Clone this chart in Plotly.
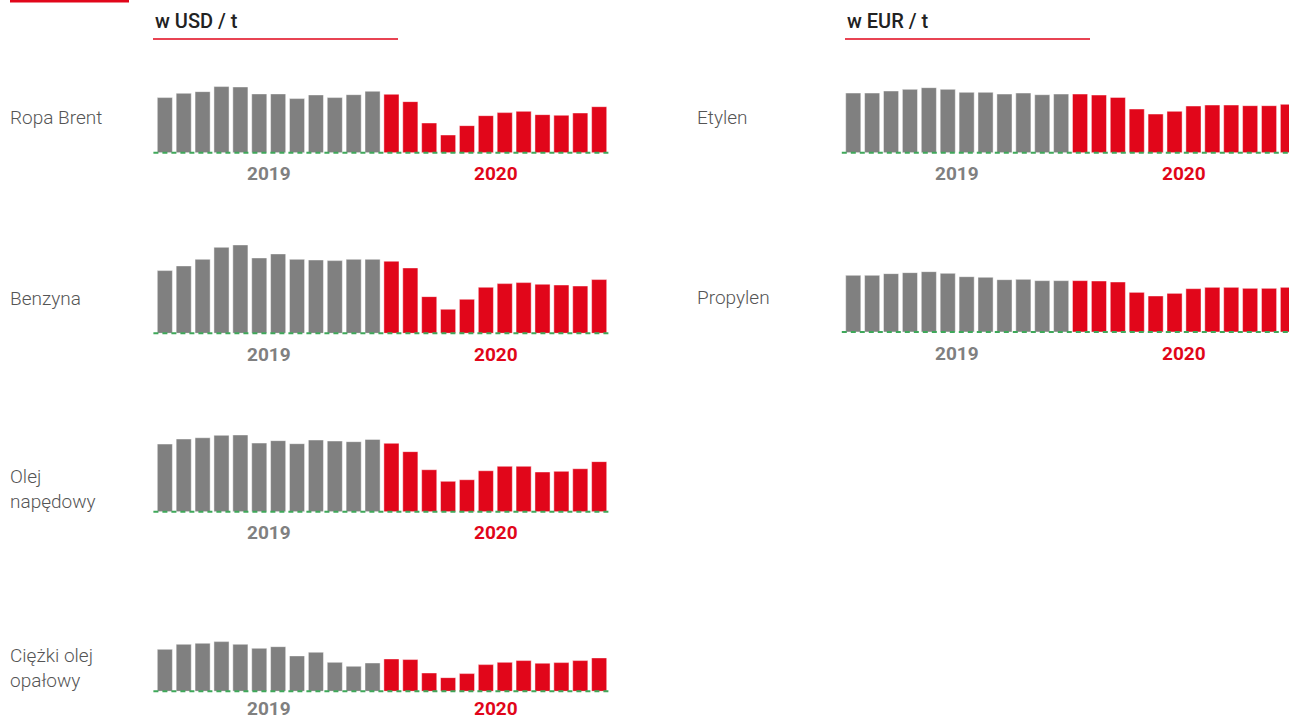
import plotly.graph_objects as go

# ---------------------------------------------------------------- data
months = [f"{m:02d}.2019" for m in range(1, 13)] + [f"{m:02d}.2020" for m in range(1, 13)]
years = ["2019", "2020"]

# USD / t
ropa_brent = [436, 470, 483, 523, 520, 465, 465, 428, 457, 436, 459, 486,
              462, 404, 235, 140, 214, 293, 317, 327, 301, 296, 314, 364]
benzyna = [496, 533, 585, 680, 699, 596, 628, 585, 580, 575, 585, 585,
           570, 517, 290, 190, 269, 364, 393, 401, 388, 382, 374, 425]
olej_napedowy = [535, 575, 585, 604, 607, 543, 562, 538, 567, 559, 554, 572,
                 541, 475, 332, 240, 253, 324, 359, 359, 314, 319, 340, 396]
ciezki_olej = [332, 372, 380, 393, 372, 340, 353, 280, 309, 229, 198, 224,
               256, 251, 145, 108, 140, 211, 229, 243, 222, 227, 243, 264]

# EUR / t
etylen = [1020, 1020, 1055, 1083, 1112, 1083, 1032, 1032, 1003, 1020, 992, 1003,
          1003, 986, 946, 747, 661, 707, 798, 815, 815, 804, 804, 827]
propylen = [969, 969, 998, 1015, 1032, 1003, 946, 935, 895, 901, 878, 878,
            878, 872, 855, 678, 616, 661, 741, 764, 764, 747, 747, 764]

left_names = ["Ropa Brent", "Benzyna", "Olej<br>napędowy", "Ciężki olej<br>opałowy"]
left_series = [ropa_brent, benzyna, olej_napedowy, ciezki_olej]
right_names = ["Etylen", "Propylen"]
right_series = [etylen, propylen]

# ---------------------------------------------------------------- style
W, H = 1289, 721
GRAY = "#808080"
RED = "#e1061a"
GREEN = "#3fa85a"
TXT = "#555555"
FONT = "Roboto"


def fx(px):
    return px / W


def fy(py):
    return 1 - py / H


fig = go.Figure()
layout_axes = {}
shapes = []
annotations = []

colors = [GRAY] * 12 + [RED] * 12

panels = []
# (series, name, label_x, x_left, x_right, x_range_end, baseline, y_max)
for i, (s, n) in enumerate(zip(left_series, left_names)):
    panels.append((s, n, 8, 155.4, 608.6, 23.5, [152.7, 333.3, 511.7, 691.3][i], 791))
for i, (s, n) in enumerate(zip(right_series, right_names)):
    panels.append((s, n, 695, 843.8, 1289, 23.056, [152.7, 332.0][i], 1710))

PANEL_H = 100  # px height of each plotting area
SLOT = 18.9

for k, (series, name, lab_x, xl, xr, xend, base, ymax) in enumerate(panels, start=1):
    xa = "x" if k == 1 else f"x{k}"
    ya = "y" if k == 1 else f"y{k}"
    fig.add_trace(go.Bar(
        x=months, y=series, xaxis=xa, yaxis=ya,
        marker=dict(color=colors, line=dict(color="rgba(255,255,255,0.45)", width=1)),
        hoverinfo="x+y",
    ))
    layout_axes["xaxis" if k == 1 else f"xaxis{k}"] = dict(
        domain=[fx(xl), fx(xr)], anchor=ya, type="category",
        range=[-0.5, xend], showgrid=False, zeroline=False,
        showticklabels=False, showline=False, ticks="", fixedrange=True,
    )
    layout_axes["yaxis" if k == 1 else f"yaxis{k}"] = dict(
        domain=[fy(base), fy(base - PANEL_H)], anchor=xa,
        range=[0, ymax], showgrid=False, zeroline=False,
        showticklabels=False, showline=False, ticks="", fixedrange=True,
    )
    # dashed baseline
    shapes.append(dict(
        type="line", xref="paper", yref="paper",
        x0=fx(xl - 2), x1=fx(min(xr + 2, W)), y0=fy(base), y1=fy(base),
        line=dict(color=GREEN, width=2, dash="5px,4px"), layer="above",
    ))
    # year labels under the bars
    for yr, cx, col in ((years[0], 5.5, GRAY), (years[1], 17.5, RED)):
        annotations.append(dict(
            text=f"<b>{yr}</b>", xref="paper", yref="paper",
            x=fx(xl + (cx + 0.5) * SLOT), y=fy(min(base + 21, 708)),
            xanchor="center", yanchor="middle", showarrow=False, borderpad=0,
            font=dict(family=FONT, size=19, color=col),
        ))
    # product label
    label_cy = base - 35 if "<br>" not in name else base - 23
    annotations.append(dict(
        text=name, xref="paper", yref="paper", x=fx(lab_x), y=fy(label_cy),
        xanchor="left", yanchor="middle", align="left", showarrow=False,
        font=dict(family=FONT, size=19, color=TXT, weight=300),
    ))

# unit headers with red underline
for txt, x0, x1 in (("w USD / t", 153, 398), ("w EUR / t", 845, 1090)):
    annotations.append(dict(
        text=txt, xref="paper", yref="paper", x=fx(x0), y=fy(21),
        xanchor="left", yanchor="middle", showarrow=False,
        font=dict(family=FONT, size=20, color="#222222", weight=500),
    ))
    shapes.append(dict(
        type="line", xref="paper", yref="paper",
        x0=fx(x0), x1=fx(x1), y0=fy(39), y1=fy(39),
        line=dict(color=RED, width=1.5),
    ))

# red marker block in the top-left corner
shapes.append(dict(
    type="rect", xref="paper", yref="paper",
    x0=fx(10), x1=fx(129), y0=fy(2.5), y1=1,
    fillcolor=RED, line=dict(width=0),
))

fig.update_layout(
    width=W, height=H,
    margin=dict(l=0, r=0, t=0, b=0),
    paper_bgcolor="white", plot_bgcolor="white",
    showlegend=False, bargap=0.2,
    font=dict(family=FONT),
    shapes=shapes, annotations=annotations,
    **layout_axes,
)

fig.write_html("out.html")
